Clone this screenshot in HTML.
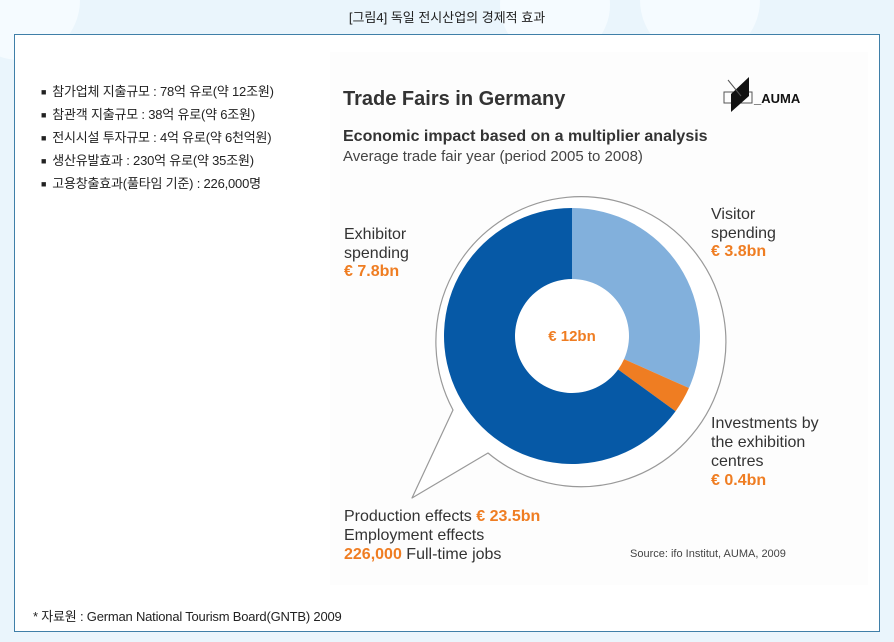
<!DOCTYPE html>
<html><head><meta charset="utf-8">
<style>
html,body{margin:0;padding:0;}
body{width:894px;height:642px;overflow:hidden;background:#eaf5fc;position:relative;font-family:"Liberation Sans","Noto Sans CJK KR",sans-serif;}
.bgc{position:absolute;border-radius:50%;background:#f5fbff;}
#panel{position:absolute;left:14px;top:34px;width:864px;height:596px;border:1px solid #3f7fa8;background:#fff;}
#title{position:absolute;top:7px;left:0;width:894px;text-align:center;font-size:13px;color:#222;}
ul{position:absolute;left:26px;top:48px;margin:0;padding:0;list-style:none;font-size:13px;color:#222;}
ul li{height:23px;line-height:17px;letter-spacing:-0.2px}
ul li:before{content:"■";font-size:9px;margin-right:6px;vertical-align:1px}
#note{position:absolute;left:18px;top:571px;font-size:13px;color:#222;letter-spacing:-0.2px}
</style></head><body>
<div class="bgc" style="left:-40px;top:-60px;width:120px;height:120px"></div>
<div class="bgc" style="left:500px;top:-50px;width:110px;height:110px"></div>
<div class="bgc" style="left:640px;top:-60px;width:120px;height:120px"></div>
<div id="title">[그림4] 독일 전시산업의 경제적 효과</div>
<div id="panel">
<ul>
<li>참가업체 지출규모 : 78억 유로(약 12조원)</li>
<li>참관객 지출규모 : 38억 유로(약 6조원)</li>
<li>전시시설 투자규모 : 4억 유로(약 6천억원)</li>
<li>생산유발효과 : 230억 유로(약 35조원)</li>
<li>고용창출효과(풀타임 기준) : 226,000명</li>
</ul>
<div id="note">* 자료원 : German National Tourism Board(GNTB) 2009</div>
</div>
<svg id="chart" width="894" height="642" style="position:absolute;left:0;top:0;font-family:'Liberation Sans',sans-serif">
<rect x="330" y="52" width="538" height="533" fill="#fdfdfd"/>
<text x="343" y="105" font-size="20" font-weight="bold" fill="#333">Trade Fairs in Germany</text>
<g>
<rect x="724" y="92" width="28" height="11" fill="none" stroke="#555" stroke-width="1"/>
<polygon points="749,77 749,96 731,112 731,94" fill="#111"/>
<line x1="728" y1="80" x2="741" y2="96" stroke="#555"/>
<text x="754" y="103" font-size="13" font-weight="bold" fill="#111">_AUMA</text>
</g>
<text x="343" y="141" font-size="16" font-weight="bold" fill="#333">Economic impact based on a multiplier analysis</text>
<text x="343" y="161" font-size="15" fill="#444">Average trade fair year (period 2005 to 2008)</text>
<path d="M453,410 A145,145 0 1 1 488,453 L412,498 Z" fill="#fff" stroke="#999" stroke-width="1.2" stroke-linejoin="round"/>
<g id="slices"></g>
<text x="572" y="341" font-size="15" font-weight="bold" fill="#ef7d22" text-anchor="middle">€ 12bn</text>
<g font-size="16" fill="#333">
<text x="344" y="239">Exhibitor</text>
<text x="344" y="258">spending</text>
<text x="344" y="276" fill="#ef7d22" font-weight="bold">€ 7.8bn</text>
<text x="711" y="219">Visitor</text>
<text x="711" y="238">spending</text>
<text x="711" y="256" fill="#ef7d22" font-weight="bold">€ 3.8bn</text>
<text x="711" y="428">Investments by</text>
<text x="711" y="447">the exhibition</text>
<text x="711" y="466">centres</text>
<text x="711" y="485" fill="#ef7d22" font-weight="bold">€ 0.4bn</text>
<text x="344" y="521">Production effects <tspan fill="#ef7d22" font-weight="bold">€ 23.5bn</tspan></text>
<text x="344" y="540">Employment effects</text>
<text x="344" y="559"><tspan fill="#ef7d22" font-weight="bold">226,000</tspan> Full-time jobs</text>
</g>
<text x="630" y="557" font-size="11" fill="#444">Source: ifo Institut, AUMA, 2009</text>
</svg>
<script>
const categories=["Visitor spending","Investments by the exhibition centres","Exhibitor spending"];
const values=[3.8,0.4,7.8];
const colors=["#82b0dc","#ef7d22","#0659a6"];
const cx=572,cy=336,R=128,r=57;
const g=document.getElementById('slices');
const total=values.reduce((a,b)=>a+b,0);
function pt(a,rad){return [cx+rad*Math.sin(a),cy-rad*Math.cos(a)];}
let a0=0;
values.forEach((v,i)=>{
  const a1=a0+v/total*2*Math.PI;
  const large=(a1-a0)>Math.PI?1:0;
  const [x0,y0]=pt(a0,R),[x1,y1]=pt(a1,R),[x2,y2]=pt(a1,r),[x3,y3]=pt(a0,r);
  const p=document.createElementNS('http://www.w3.org/2000/svg','path');
  p.setAttribute('d',`M${x0},${y0} A${R},${R} 0 ${large} 1 ${x1},${y1} L${x2},${y2} A${r},${r} 0 ${large} 0 ${x3},${y3} Z`);
  p.setAttribute('fill',colors[i]);
  
  
  g.appendChild(p);
  a0=a1;
});
</script>
</body></html>
